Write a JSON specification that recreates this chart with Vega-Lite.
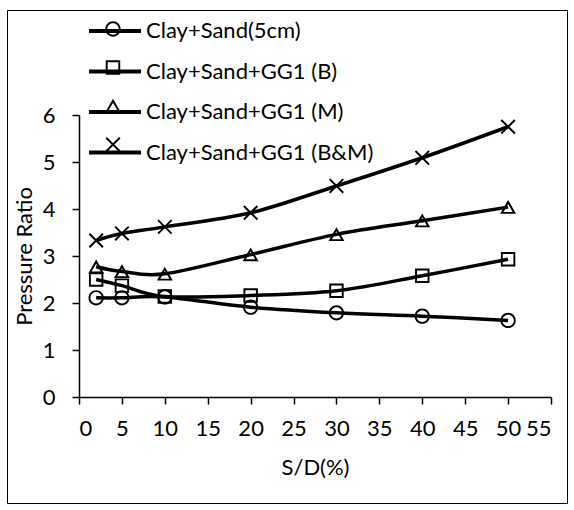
{
  "$schema": "https://vega.github.io/schema/vega-lite/v6.json",
  "width": 560,
  "height": 493,
  "autosize": {"type": "none"},
  "padding": {"left": 7, "top": 10, "right": 7, "bottom": 7},
  "background": "white",
  "config": {
    "view": {"stroke": "black", "strokeWidth": 1},
    "font": "Lato",
    "axis": {
      "grid": false,
      "domainColor": "black",
      "domainWidth": 1.5,
      "tickColor": "black",
      "tickWidth": 1.5,
      "tickSize": 7,
      "labelFont": "Lato",
      "labelFontSize": 22,
      "labelColor": "black",
      "titleFont": "Lato",
      "titleFontSize": 22,
      "titleColor": "black",
      "titleFontWeight": "normal"
    }
  },
  "data": {
    "values": [
      {"series": "Clay+Sand(5cm)", "sd": 2, "ratio": 2.11},
      {"series": "Clay+Sand(5cm)", "sd": 5, "ratio": 2.11},
      {"series": "Clay+Sand(5cm)", "sd": 10, "ratio": 2.13},
      {"series": "Clay+Sand(5cm)", "sd": 20, "ratio": 1.91},
      {"series": "Clay+Sand(5cm)", "sd": 30, "ratio": 1.79},
      {"series": "Clay+Sand(5cm)", "sd": 40, "ratio": 1.72},
      {"series": "Clay+Sand(5cm)", "sd": 50, "ratio": 1.63},
      {"series": "Clay+Sand+GG1 (B)", "sd": 2, "ratio": 2.5},
      {"series": "Clay+Sand+GG1 (B)", "sd": 5, "ratio": 2.37},
      {"series": "Clay+Sand+GG1 (B)", "sd": 10, "ratio": 2.14},
      {"series": "Clay+Sand+GG1 (B)", "sd": 20, "ratio": 2.16},
      {"series": "Clay+Sand+GG1 (B)", "sd": 30, "ratio": 2.26},
      {"series": "Clay+Sand+GG1 (B)", "sd": 40, "ratio": 2.58},
      {"series": "Clay+Sand+GG1 (B)", "sd": 50, "ratio": 2.93},
      {"series": "Clay+Sand+GG1 (M)", "sd": 2, "ratio": 2.77},
      {"series": "Clay+Sand+GG1 (M)", "sd": 5, "ratio": 2.67},
      {"series": "Clay+Sand+GG1 (M)", "sd": 10, "ratio": 2.62},
      {"series": "Clay+Sand+GG1 (M)", "sd": 20, "ratio": 3.03},
      {"series": "Clay+Sand+GG1 (M)", "sd": 30, "ratio": 3.46},
      {"series": "Clay+Sand+GG1 (M)", "sd": 40, "ratio": 3.75},
      {"series": "Clay+Sand+GG1 (M)", "sd": 50, "ratio": 4.04},
      {"series": "Clay+Sand+GG1 (B&M)", "sd": 2, "ratio": 3.33},
      {"series": "Clay+Sand+GG1 (B&M)", "sd": 5, "ratio": 3.48},
      {"series": "Clay+Sand+GG1 (B&M)", "sd": 10, "ratio": 3.62},
      {"series": "Clay+Sand+GG1 (B&M)", "sd": 20, "ratio": 3.92},
      {"series": "Clay+Sand+GG1 (B&M)", "sd": 30, "ratio": 4.49},
      {"series": "Clay+Sand+GG1 (B&M)", "sd": 40, "ratio": 5.09},
      {"series": "Clay+Sand+GG1 (B&M)", "sd": 50, "ratio": 5.75}
    ]
  },
  "layer": [
    {
      "mark": {"type": "line", "interpolate": "cardinal", "strokeWidth": 3.5},
      "encoding": {
        "x": {
          "field": "sd", "type": "quantitative",
          "scale": {"domain": [0, 55], "range": [72, 544], "nice": false, "zero": false},
          "axis": {"title": "S/D(%)", "values": [0, 5, 10, 15, 20, 25, 30, 35, 40, 45, 50, 55], "format": "d", "offset": -106, "labelPadding": 14, "titlePadding": 18}
        },
        "y": {
          "field": "ratio", "type": "quantitative",
          "scale": {"domain": [0, 6], "range": [387, 105], "nice": false, "zero": false},
          "axis": {"title": "Pressure Ratio", "values": [0, 1, 2, 3, 4, 5, 6], "format": "d", "offset": -72, "labelPadding": 17, "titlePadding": 6}
        },
        "color": {
          "field": "series", "type": "nominal",
          "scale": {"domain": ["Clay+Sand(5cm)", "Clay+Sand+GG1 (B)", "Clay+Sand+GG1 (M)", "Clay+Sand+GG1 (B&M)"], "range": ["black", "black", "black", "black"]},
          "legend": {
            "orient": "none", "legendX": 95, "legendY": 8, "title": null, "padding": 0,
            "symbolType": "M-2.45,0H2.45", "symbolSize": 450, "symbolStrokeWidth": 3.8, "symbolStrokeColor": "black",
            "labelFont": "Lato", "labelFontSize": 22, "labelColor": "black", "labelOffset": 18, "labelLimit": 0, "rowPadding": 16.5, "zindex": 1
          }
        }
      }
    },
    {
      "mark": {"type": "point", "filled": true, "fill": "black", "strokeWidth": 0, "size": 450, "opacity": 1},
      "encoding": {
        "x": {"field": "sd", "type": "quantitative"},
        "y": {"field": "ratio", "type": "quantitative"},
        "shape": {
          "field": "series", "type": "nominal",
          "sort": ["Clay+Sand(5cm)", "Clay+Sand+GG1 (B)", "Clay+Sand+GG1 (M)", "Clay+Sand+GG1 (B&M)"],
          "scale": {"range": [
            "M0.72,0A0.72,0.72 0 1,1 -0.72,0A0.72,0.72 0 1,1 0.72,0Z M0.54,0A0.54,0.54 0 1,0 -0.54,0A0.54,0.54 0 1,0 0.54,0Z",
            "M-0.68,-0.68H0.68V0.68H-0.68Z M-0.5,-0.5V0.5H0.5V-0.5Z",
            "M0,-0.68L0.75,0.62H-0.75Z M0,-0.3L-0.43,0.45H0.43Z",
            "M-0.576,-0.704L0.704,0.576L0.576,0.704L-0.704,-0.576Z M-0.576,0.704L-0.704,0.576L0.576,-0.704L0.704,-0.576Z"
          ]},
          "legend": {
            "orient": "none", "legendX": 95, "legendY": 8, "title": null, "padding": 0,
            "symbolSize": 450, "symbolFillColor": "black", "symbolStrokeWidth": 0, "symbolOpacity": 1,
            "labelFont": "Lato", "labelFontSize": 22, "labelColor": "black", "labelExpr": "''", "labelOffset": 18, "labelLimit": 0, "rowPadding": 16.5, "zindex": 2
          }
        }
      }
    }
  ]
}
